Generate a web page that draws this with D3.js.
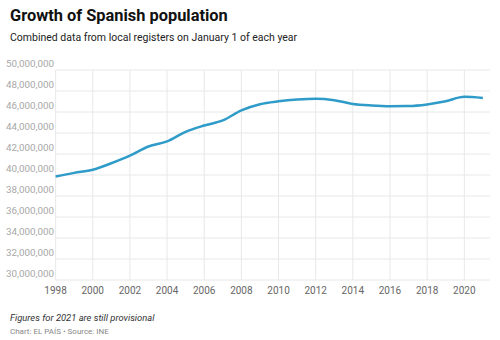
<!DOCTYPE html>
<html>
<head>
<meta charset="utf-8">
<script src="https://cdn.jsdelivr.net/npm/d3@7"></script>
<style>
  body { margin: 0; background: #fff; font-family: Roboto, "Noto Sans", sans-serif; }
  svg text { font-family: Roboto, "Noto Sans", sans-serif; }
</style>
</head>
<body>
<div id="chart"></div>
<script>
// data: population on January 1 of each year
const years = [1998, 1999, 2000, 2001, 2002, 2003, 2004, 2005, 2006, 2007, 2008, 2009,
  2010, 2011, 2012, 2013, 2014, 2015, 2016, 2017, 2018, 2019, 2020, 2021];
const population = [39852651, 40202160, 40499791, 41116842, 41837894, 42717064, 43197684,
  44108530, 44708964, 45200737, 46157822, 46745807, 47021031, 47190493, 47265321,
  47129783, 46771341, 46624382, 46557008, 46572132, 46722980, 47026208, 47450795, 47344649];
const yTicks = [30e6, 32e6, 34e6, 36e6, 38e6, 40e6, 42e6, 44e6, 46e6, 48e6, 50e6];
const xTicks = [1998, 2000, 2002, 2004, 2006, 2008, 2010, 2012, 2014, 2016, 2018, 2020];

const title = "Growth of Spanish population";
const subtitle = "Combined data from local registers on January 1 of each year";
const note = "Figures for 2021 are still provisional";
const credit = "Chart: EL PAÍS • Source: INE";

const W = 500, H = 340;
const plot = { left: 55.6, right: 490, top: 70, bottom: 280 };

const svg = d3.select("#chart").append("svg")
  .attr("width", W)
  .attr("height", H);

const x = d3.scaleLinear()
  .domain([1998, 2020])
  .range([plot.left, 464.3]);

const y = d3.scaleLinear()
  .domain([30e6, 50e6])
  .range([plot.bottom, plot.top]);

// titles
svg.append("text")
  .attr("x", 10).attr("y", 21)
  .attr("font-size", 16.4).attr("font-weight", 700)
  .attr("fill", "#111")
  .text(title);

svg.append("text")
  .attr("x", 10).attr("y", 41)
  .attr("font-size", 10.5)
  .attr("fill", "#222")
  .text(subtitle);

// horizontal grid + y labels
const yAxis = svg.append("g").attr("class", "y-axis");
yAxis.selectAll("line")
  .data(yTicks)
  .join("line")
  .attr("x1", plot.left).attr("x2", plot.right)
  .attr("y1", d => y(d)).attr("y2", d => y(d))
  .attr("stroke", "#e8e8e8").attr("stroke-width", 1);

yAxis.selectAll("text")
  .data(yTicks)
  .join("text")
  .attr("x", 54).attr("y", d => y(d) - 3)
  .attr("text-anchor", "end")
  .attr("font-size", 9.8)
  .attr("fill", "#a8a8a8")
  .text(d => d3.format(",")(d));

// vertical grid + x labels
const xAxis = svg.append("g").attr("class", "x-axis");
xAxis.selectAll("line")
  .data(xTicks)
  .join("line")
  .attr("x1", d => x(d)).attr("x2", d => x(d))
  .attr("y1", plot.top).attr("y2", plot.bottom)
  .attr("stroke", "#e8e8e8").attr("stroke-width", 1);

xAxis.selectAll("text")
  .data(xTicks)
  .join("text")
  .attr("x", d => x(d)).attr("y", 294)
  .attr("text-anchor", "middle")
  .attr("font-size", 10)
  .attr("fill", "#666")
  .text(d => d);

// line
const points = years.map((yr, i) => [yr, population[i]]);
const line = d3.line()
  .x(d => x(d[0]))
  .y(d => y(d[1]))
  .curve(d3.curveMonotoneX);

svg.append("path")
  .datum(points)
  .attr("d", line)
  .attr("fill", "none")
  .attr("stroke", "#2f9bc8")
  .attr("stroke-width", 2.5)
  .attr("stroke-linejoin", "round");

// footer
svg.append("text")
  .attr("x", 10).attr("y", 321)
  .attr("font-size", 9.4).attr("font-style", "italic")
  .attr("fill", "#333")
  .text(note);

svg.append("text")
  .attr("x", 10).attr("y", 334)
  .attr("font-size", 8)
  .attr("fill", "#888")
  .text(credit);
</script>
</body>
</html>
